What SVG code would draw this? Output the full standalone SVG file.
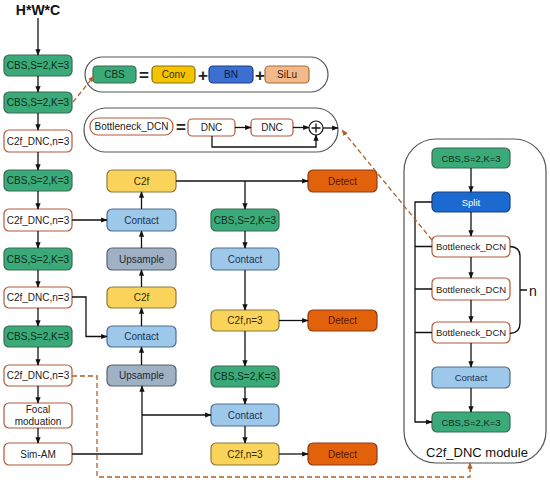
<svg xmlns="http://www.w3.org/2000/svg" width="550" height="486" viewBox="0 0 550 486">
<style>
text{font-family:"Liberation Sans",Arial,sans-serif;font-size:10px;text-anchor:middle;dominant-baseline:central}
.g{fill:#3aaa78;stroke:#3d6a55;stroke-width:1.2}
.g+text{fill:#0f2e1d}
.y{fill:#fad45a;stroke:#8c7a3c;stroke-width:1.2}
.y+text{fill:#3a2c00}
.b{fill:#9dc8ea;stroke:#4e6e8e;stroke-width:1.2}
.b+text{fill:#1b3252}
.u{fill:#a0b1c4;stroke:#566270;stroke-width:1.2}
.u+text{fill:#1e2a38}
.o{fill:#e2620c;stroke:#8e3a12;stroke-width:1.2}
.o+text{fill:#5a1500}
.w{fill:#fff;stroke:#b4593a;stroke-width:1.2}
.w+text{fill:#222}
.s{fill:#1a6ad0;stroke:#1a3f80;stroke-width:1.2}
.s+text{fill:#fff}
.c{fill:none;stroke:#111;stroke-width:1.3}
.d{fill:none;stroke:#b0602a;stroke-width:1.3;stroke-dasharray:5 3}
.frame{fill:#fff;stroke:#555;stroke-width:1.2}
.op{font-size:17px;font-weight:bold;fill:#222}
</style>
<defs>
<marker id="a" viewBox="0 0 10 10" refX="9" refY="5" markerWidth="5" markerHeight="5" orient="auto"><path d="M0,1 L10,5 L0,9z" fill="#111"/></marker>
<marker id="ad" viewBox="0 0 10 10" refX="9" refY="5" markerWidth="5" markerHeight="5" orient="auto"><path d="M0,1 L10,5 L0,9z" fill="#b0602a"/></marker>
</defs>
<rect width="550" height="486" fill="#fff"/>

<!-- definition frames -->
<g id="def-cbs">
<rect class="frame" x="85" y="57" width="243" height="35" rx="17.5"/>
<g id="def-cbs-box"><rect class="g" x="93" y="66" width="43" height="17" rx="4"/><text x="114.5" y="74.5">CBS</text></g>
<text class="op" x="144" y="75">=</text>
<g id="def-conv"><rect x="152" y="66" width="43" height="17" rx="4" fill="#f5c400" stroke="#8a7000" stroke-width="1.2"/><text x="173.5" y="74.5" fill="#3a2c00">Conv</text></g>
<text class="op" x="203" y="75">+</text>
<g id="def-bn"><rect x="209" y="66" width="44" height="17" rx="4" fill="#3b6fd1" stroke="#243f80" stroke-width="1.2"/><text x="231" y="74.5" fill="#0a1a40">BN</text></g>
<text class="op" x="260" y="75">+</text>
<g id="def-silu"><rect x="265" y="66" width="44" height="17" rx="4" fill="#f2b98a" stroke="#a0703a" stroke-width="1.2"/><text x="287" y="74.5" fill="#3a2010">SiLu</text></g>
</g>

<g id="def-bottleneck">
<rect class="frame" x="84" y="108" width="254" height="44" rx="22"/>
<g id="def-bdcn"><rect class="w" x="90" y="118" width="83" height="17" rx="8"/><text x="131.5" y="126.5">Bottleneck_DCN</text></g>
<text class="op" x="181" y="127">=</text>
<g id="def-dnc1"><rect class="w" x="188" y="119" width="47" height="17" rx="4"/><text x="211.5" y="127.5">DNC</text></g>
<g id="def-dnc2"><rect class="w" x="251" y="119" width="42" height="17" rx="4"/><text x="272" y="127.5">DNC</text></g>
<g id="def-add"><circle cx="316" cy="128" r="7" fill="#fff" stroke="#111" stroke-width="1.2"/><path d="M311.5,128 H320.5 M316,123.5 V132.5" stroke="#111" stroke-width="1.3"/></g>
</g>

<!-- module frame -->
<g id="module">
<rect class="frame" x="404" y="139" width="142" height="324" rx="32"/>
<text x="477" y="452" style="font-size:13px" fill="#111">C2f_DNC  module</text>
</g>

<!-- left column -->
<text x="38" y="10" style="font-size:14px;font-weight:bold" fill="#111">H*W*C</text>
<g id="l1"><rect class="g" x="4" y="55" width="68" height="21" rx="5"/><text x="38" y="65.5">CBS,S=2,K=3</text></g>
<g id="l2"><rect class="g" x="4" y="92" width="68" height="21" rx="5"/><text x="38" y="102.5">CBS,S=2,K=3</text></g>
<g id="l3"><rect class="w" x="4" y="130" width="68" height="22" rx="5"/><text x="38" y="141">C2f_DNC,n=3</text></g>
<g id="l4"><rect class="g" x="4" y="170" width="68" height="21" rx="5"/><text x="38" y="180.5">CBS,S=2,K=3</text></g>
<g id="l5"><rect class="w" x="4" y="209" width="68" height="22" rx="5"/><text x="38" y="220">C2f_DNC,n=3</text></g>
<g id="l6"><rect class="g" x="4" y="248" width="68" height="22" rx="5"/><text x="38" y="259">CBS,S=2,K=3</text></g>
<g id="l7"><rect class="w" x="4" y="287" width="68" height="21" rx="5"/><text x="38" y="297.5">C2f_DNC,n=3</text></g>
<g id="l8"><rect class="g" x="4" y="326" width="68" height="21" rx="5"/><text x="38" y="336.5">CBS,S=2,K=3</text></g>
<g id="l9"><rect class="w" x="4" y="365" width="68" height="21" rx="5"/><text x="38" y="375.5">C2f_DNC,n=3</text></g>
<g id="l10"><rect class="w" x="4" y="403" width="68" height="25" rx="5"/><text x="38" y="409.5" fill="#222">Focal</text><text x="38" y="421.5" fill="#222">moduation</text></g>
<g id="l11"><rect class="w" x="4" y="443" width="68" height="22" rx="5"/><text x="38" y="454">Sim-AM</text></g>

<!-- column 2 -->
<g id="m1"><rect class="y" x="107" y="170" width="69" height="22" rx="5"/><text x="141.5" y="181">C2f</text></g>
<g id="m2"><rect class="b" x="107" y="209" width="69" height="22" rx="5"/><text x="141.5" y="220">Contact</text></g>
<g id="m3"><rect class="u" x="107" y="248" width="69" height="22" rx="5"/><text x="141.5" y="259">Upsample</text></g>
<g id="m4"><rect class="y" x="107" y="287" width="69" height="21" rx="5"/><text x="141.5" y="297.5">C2f</text></g>
<g id="m5"><rect class="b" x="107" y="326" width="69" height="21" rx="5"/><text x="141.5" y="336.5">Contact</text></g>
<g id="m6"><rect class="u" x="107" y="365" width="69" height="21" rx="5"/><text x="141.5" y="375.5">Upsample</text></g>

<!-- column 3 -->
<g id="r1"><rect class="g" x="211" y="209" width="68" height="22" rx="5"/><text x="245" y="220">CBS,S=2,K=3</text></g>
<g id="r2"><rect class="b" x="211" y="248" width="68" height="22" rx="5"/><text x="245" y="259">Contact</text></g>
<g id="r3"><rect class="y" x="211" y="310" width="68" height="21" rx="5"/><text x="245" y="320.5">C2f,n=3</text></g>
<g id="r4"><rect class="g" x="211" y="366" width="68" height="21" rx="5"/><text x="245" y="376.5">CBS,S=2,K=3</text></g>
<g id="r5"><rect class="b" x="211" y="404" width="68" height="22" rx="5"/><text x="245" y="415">Contact</text></g>
<g id="r6"><rect class="y" x="211" y="443" width="68" height="22" rx="5"/><text x="245" y="454">C2f,n=3</text></g>

<!-- detect -->
<g id="det1"><rect class="o" x="308" y="170" width="69" height="22" rx="5"/><text x="342.5" y="181">Detect</text></g>
<g id="det2"><rect class="o" x="308" y="310" width="69" height="21" rx="5"/><text x="342.5" y="320.5">Detect</text></g>
<g id="det3"><rect class="o" x="308" y="443" width="69" height="22" rx="5"/><text x="342.5" y="454">Detect</text></g>

<!-- module internals -->
<g id="k1"><rect class="g" x="432" y="148" width="78" height="20" rx="5"/><text x="471" y="158" style="font-size:9.5px">CBS,S=2,K=3</text></g>
<g id="k2"><rect class="s" x="432" y="192" width="78" height="20" rx="5"/><text x="471" y="202" style="font-size:9.5px">Split</text></g>
<g id="k3"><rect class="w" x="432" y="236" width="78" height="21" rx="5"/><text x="471" y="246.5" style="font-size:9.5px">Bottleneck_DCN</text></g>
<g id="k4"><rect class="w" x="432" y="278" width="78" height="22" rx="5"/><text x="471" y="289" style="font-size:9.5px">Bottleneck_DCN</text></g>
<g id="k5"><rect class="w" x="432" y="322" width="78" height="21" rx="5"/><text x="471" y="332.5" style="font-size:9.5px">Bottleneck_DCN</text></g>
<g id="k6"><rect class="b" x="432" y="367" width="78" height="21" rx="5"/><text x="471" y="377.5" style="font-size:9.5px">Contact</text></g>
<g id="k7"><rect class="g" x="432" y="412" width="78" height="20" rx="5"/><text x="471" y="422" style="font-size:9.5px">CBS,S=2,K=3</text></g>
<text x="533" y="291" style="font-size:14px" fill="#111">n</text>

<g id="connectors">
<!-- left column -->
<path class="c" marker-end="url(#a)" d="M38,18 V55"/>
<path class="c" marker-end="url(#a)" d="M38,76 V92"/>
<path class="c" marker-end="url(#a)" d="M38,113 V130"/>
<path class="c" marker-end="url(#a)" d="M38,152 V170"/>
<path class="c" marker-end="url(#a)" d="M38,191 V209"/>
<path class="c" marker-end="url(#a)" d="M38,231 V248"/>
<path class="c" marker-end="url(#a)" d="M38,270 V287"/>
<path class="c" marker-end="url(#a)" d="M38,308 V326"/>
<path class="c" marker-end="url(#a)" d="M38,347 V365"/>
<path class="c" marker-end="url(#a)" d="M38,386 V403"/>
<path class="c" marker-end="url(#a)" d="M38,428 V443"/>
<!-- left to column 2 -->
<path class="c" marker-end="url(#a)" d="M72,220 H107"/>
<path class="c" marker-end="url(#a)" d="M72,297 H86 V336.5 H107"/>
<path class="c" marker-end="url(#a)" d="M72,454 H142 V386"/>
<path class="c" marker-end="url(#a)" d="M142,415 H211"/>
<!-- column 2 upward -->
<path class="c" marker-end="url(#a)" d="M141.5,365 V347"/>
<path class="c" marker-end="url(#a)" d="M141.5,326 V308"/>
<path class="c" marker-end="url(#a)" d="M141.5,287 V270"/>
<path class="c" marker-end="url(#a)" d="M141.5,248 V231"/>
<path class="c" marker-end="url(#a)" d="M141.5,209 V192"/>
<!-- column 3 -->
<path class="c" marker-end="url(#a)" d="M176,181 H308"/>
<path class="c" marker-end="url(#a)" d="M245,181 V209"/>
<path class="c" marker-end="url(#a)" d="M245,231 V248"/>
<path class="c" marker-end="url(#a)" d="M245,270 V310"/>
<path class="c" marker-end="url(#a)" d="M245,331 V366"/>
<path class="c" marker-end="url(#a)" d="M245,387 V404"/>
<path class="c" marker-end="url(#a)" d="M245,426 V443"/>
<path class="c" marker-end="url(#a)" d="M279,320.5 H308"/>
<path class="c" marker-end="url(#a)" d="M279,454 H308"/>
<!-- bottleneck definition -->
<path class="c" marker-end="url(#a)" d="M235,127.5 H251"/>
<path class="c" marker-end="url(#a)" d="M293,127.5 H309"/>
<path class="c" marker-end="url(#a)" d="M323,128 H338"/>
<path class="c" marker-end="url(#a)" d="M212,136 V147 H316 V135"/>
<!-- module internals -->
<path class="c" marker-end="url(#a)" d="M471,168 V192"/>
<path class="c" marker-end="url(#a)" d="M471,212 V236"/>
<path class="c" marker-end="url(#a)" d="M471,257 V278"/>
<path class="c" marker-end="url(#a)" d="M471,300 V322"/>
<path class="c" marker-end="url(#a)" d="M471,343 V367"/>
<path class="c" marker-end="url(#a)" d="M471,388 V412"/>
<path class="c" marker-end="url(#a)" d="M432,202 H415 V422 H432"/>
<path class="c" d="M432,246.5 H415 M432,289 H415 M432,332.5 H415"/>
<path class="c" d="M510,246.5 Q520,247 520,256 V323 Q520,333 510,333.5 M520,290 H527"/>
<!-- dashed -->
<path class="d" marker-end="url(#ad)" d="M73,102 L94,76"/>
<path class="d" marker-end="url(#ad)" d="M432,240 L342,130"/>
<path class="d" marker-end="url(#ad)" d="M72,376 H97 V477 H470 V463"/>
</g>
</svg>
